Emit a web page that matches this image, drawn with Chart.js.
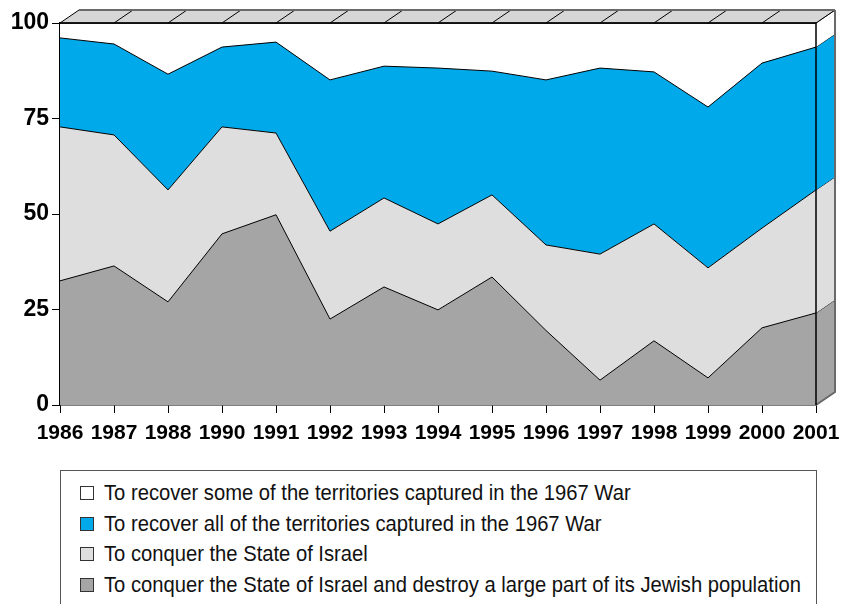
<!DOCTYPE html>
<html>
<head>
<meta charset="utf-8">
<script src="https://cdn.jsdelivr.net/npm/chart.js@4"></script>
<style>
  html, body { margin: 0; padding: 0; background: #fff; }
  #wrap { position: relative; width: 855px; height: 604px; overflow: hidden; }
  #chartBox { position: absolute; left: 0; top: 0; width: 855px; height: 460px; }
  #legend {
    position: absolute; left: 60px; top: 470px; width: 757px; height: 150px;
    border: 1px solid #555; box-sizing: border-box;
    font-family: "Liberation Sans", Arial, sans-serif;
    font-size: 20.2px; color: #111;
  }
  .item { position: absolute; left: 19px; height: 30px; line-height: 30px; white-space: nowrap; }
  .sw { display: inline-block; width: 12px; height: 12px; border: 1px solid #333; margin-right: 10px; vertical-align: -1px; }
  .txt { display: inline-block; transform: scaleY(1.12); transform-origin: 50% 55%; }
</style>
</head>
<body>
<div id="wrap">
  <div id="chartBox"><canvas id="chart"></canvas></div>
  <div id="legend"></div>
</div>
<script>
document.addEventListener('DOMContentLoaded', () => {

    // --- DATA ---
    const years = ['1986', '1987', '1988', '1990', '1991', '1992', '1993', '1994', '1995', '1996', '1997', '1998', '1999', '2000', '2001'];
    const destroyValues = [32.5, 36.4, 27.0, 44.8, 49.8, 22.5, 30.9, 24.9, 33.5, 19.5, 6.5, 16.8, 7.1, 20.2, 24.1];
    const conquerValues = [40.3, 34.3, 29.3, 28.0, 21.4, 23.0, 23.3, 22.5, 21.5, 22.4, 33.0, 30.6, 28.8, 26.1, 32.2];
    const recoverAllValues = [23.3, 23.8, 30.3, 20.9, 23.8, 39.6, 34.5, 40.8, 32.4, 43.2, 48.7, 39.8, 42.1, 43.2, 37.4];
    const recoverSomeValues = [3.9, 5.5, 13.4, 6.3, 5.0, 14.9, 11.3, 11.8, 12.6, 14.9, 11.8, 12.8, 22.0, 10.5, 6.3];
    const yTicks = [0, 25, 50, 75, 100];

    const seriesLabels = [
        'To conquer the State of Israel and destroy a large part of its Jewish population',
        'To conquer the State of Israel',
        'To recover all of the territories captured in the 1967 War',
        'To recover some of the territories captured in the 1967 War'
    ];

    // --- COLORS ---
    const colors = ['#a5a5a5', '#dedede', '#00a9e9', '#ffffff'];
    const depthX = 19, depthY = 13;

    // --- 3D box plugin (top band + right face) ---
    const boxPlugin = {
        id: 'box3d',
        afterDatasetsDraw(chart) {
            const ctx = chart.ctx;
            const a = chart.chartArea;
            const xs = chart.scales.x;
            ctx.save();
            ctx.lineWidth = 1;

            // right face, one slice per dataset at the last category
            let prevY = a.bottom;
            chart.data.datasets.forEach((ds, i) => {
                const meta = chart.getDatasetMeta(i);
                const pt = meta.data[meta.data.length - 1];
                const y = pt.y;
                ctx.beginPath();
                ctx.moveTo(a.right, y);
                ctx.lineTo(a.right + depthX, y - depthY);
                ctx.lineTo(a.right + depthX, prevY - depthY);
                ctx.lineTo(a.right, prevY);
                ctx.closePath();
                ctx.fillStyle = ds.backgroundColor;
                ctx.fill();
                ctx.strokeStyle = '#000';
                ctx.beginPath();
                ctx.moveTo(a.right, y);
                ctx.lineTo(a.right + depthX, y - depthY);
                ctx.stroke();
                prevY = y;
            });

            // top band
            ctx.beginPath();
            ctx.moveTo(a.left, a.top);
            ctx.lineTo(a.left + depthX, a.top - depthY);
            ctx.lineTo(a.right + depthX, a.top - depthY);
            ctx.lineTo(a.right, a.top);
            ctx.closePath();
            ctx.fillStyle = '#d6d6d6';
            ctx.fill();
            ctx.strokeStyle = '#000';
            ctx.stroke();
            for (let i = 1; i < years.length - 1; i++) {
                const x = xs.getPixelForValue(i);
                ctx.beginPath();
                ctx.moveTo(x, a.top);
                ctx.lineTo(x + depthX, a.top - depthY);
                ctx.stroke();
            }

            // outer right edge and bottom diagonal
            ctx.strokeStyle = '#6a6a6a';
            ctx.lineWidth = 2;
            ctx.beginPath();
            ctx.moveTo(a.right + depthX, a.top - depthY);
            ctx.lineTo(a.right + depthX, a.bottom - depthY);
            ctx.lineTo(a.right, a.bottom);
            ctx.stroke();
            ctx.beginPath();
            ctx.moveTo(a.left + depthX, a.top - depthY);
            ctx.lineTo(a.right + depthX, a.top - depthY);
            ctx.stroke();

            // front frame
            ctx.strokeStyle = '#000';
            ctx.lineWidth = 1.5;
            ctx.beginPath();
            ctx.moveTo(a.left, a.top);
            ctx.lineTo(a.right, a.top);
            ctx.lineTo(a.right, a.bottom);
            ctx.stroke();
            ctx.restore();
        }
    };

    const valueSets = [destroyValues, conquerValues, recoverAllValues, recoverSomeValues];
    const datasets = valueSets.map((vals, i) => ({
        label: seriesLabels[i],
        data: vals,
        backgroundColor: colors[i],
        borderColor: '#000',
        borderWidth: 1,
        fill: i === 0 ? 'origin' : '-1',
        pointRadius: 0,
        tension: 0
    }));

    const font = { family: '"Liberation Sans", Arial, sans-serif', weight: 'bold' };

    new Chart(document.getElementById('chart').getContext('2d'), {
        type: 'line',
        data: { labels: years, datasets: datasets },
        options: {
            responsive: true,
            maintainAspectRatio: false,
            animation: false,
            layout: { padding: { top: 23, right: 39, left: 0, bottom: 0 } },
            plugins: { legend: { display: false }, tooltip: { enabled: false } },
            scales: {
                x: {
                    offset: false,
                    grid: { drawOnChartArea: false, drawTicks: true, tickLength: 8, color: '#000' },
                    border: { display: true, color: '#000', width: 1.5 },
                    ticks: { color: '#000', padding: 8, maxRotation: 0, autoSkip: false, font: { ...font, size: 21 } },
                    afterFit(scale) { scale.height = 55; }
                },
                y: {
                    stacked: true,
                    min: 0,
                    max: 100,
                    afterBuildTicks(scale) { scale.ticks = yTicks.map(v => ({ value: v })); },
                    grid: { drawOnChartArea: false, drawTicks: true, tickLength: 8, color: '#000' },
                    border: { display: true, color: '#000', width: 1.5 },
                    ticks: { color: '#000', padding: 3, font: { ...font, size: 23 } },
                    afterFit(scale) { scale.width = 60; }
                }
            }
        },
        plugins: [boxPlugin]
    });

    // --- HTML legend (top series first) ---
    const legend = document.getElementById('legend');
    [3, 2, 1, 0].forEach((idx, row) => {
        const div = document.createElement('div');
        div.className = 'item';
        div.style.top = (6 + row * 30.7) + 'px';
        const sw = document.createElement('span');
        sw.className = 'sw';
        sw.style.background = colors[idx];
        div.appendChild(sw);
        const txt = document.createElement('span');
        txt.className = 'txt';
        txt.textContent = seriesLabels[idx];
        div.appendChild(txt);
        legend.appendChild(div);
    });
});
</script>
</body>
</html>
